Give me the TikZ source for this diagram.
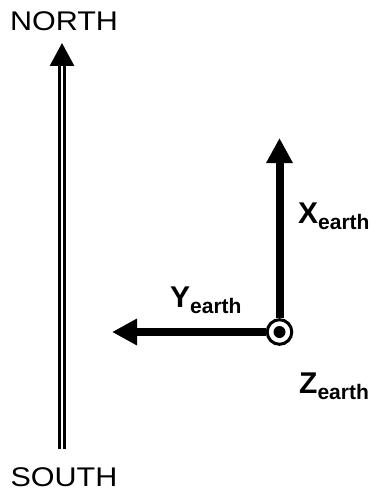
\documentclass[tikz,border=0pt]{standalone}
\usepackage{fontspec}
\setmainfont{Liberation Sans}
\usetikzlibrary{arrows.meta}
\newcommand{\axislabel}[1]{\textbf{#1}\raisebox{-6pt}{\fontsize{21}{21}\selectfont\textbf{earth}}}

\begin{document}
\begin{tikzpicture}[x=1pt, y=-1pt,
    pole/.style={inner sep=0pt, font=\fontsize{27}{27}\selectfont},
    axlabel/.style={inner sep=0pt, anchor=base west, font=\fontsize{30}{30}\selectfont},
    poleline/.style={double, draw=black, line width=3pt, double distance=2pt,
                     -{Triangle[length=23pt, width=24pt]}},
    axis/.style={line width=8pt, draw=black, -{Triangle[length=25pt, width=25pt]}},
    zcirc/.style={circle, draw=black, line width=3pt, fill=white,
                  minimum size=24.6pt, inner sep=0pt},
    zdot/.style={circle, fill=black, minimum size=12pt, inner sep=0pt}
  ]
    \useasboundingbox (0,0) rectangle (372,495);

    \node[pole] (north) at (64,21.5) {\scalebox{1.13}[1]{NORTH}};
    \node[pole] (south) at (64,477.5) {\scalebox{1.13}[1]{SOUTH}};
    \coordinate (nbase) at (62,449);
    \coordinate (ntip) at (62,43);
    \draw[poleline] (nbase) -- (ntip);

    \coordinate (xtip) at (279.5,138);
    \coordinate (ytip) at (112,332);
    \node[zcirc] (zax) at (279.5,332) {};
    \draw[axis] (zax.north) -- (xtip);
    \draw[axis] (zax.west) -- (ytip);
    \node[zdot] (zdot) at (zax.center) {};

    \node[axlabel] (xlab) at (298,223) {\axislabel{X}};
    \node[axlabel] (ylab) at (170,307) {\axislabel{Y}};
    \node[axlabel] (zlab) at (299,393) {\axislabel{Z}};
  \end{tikzpicture}
\end{document}
